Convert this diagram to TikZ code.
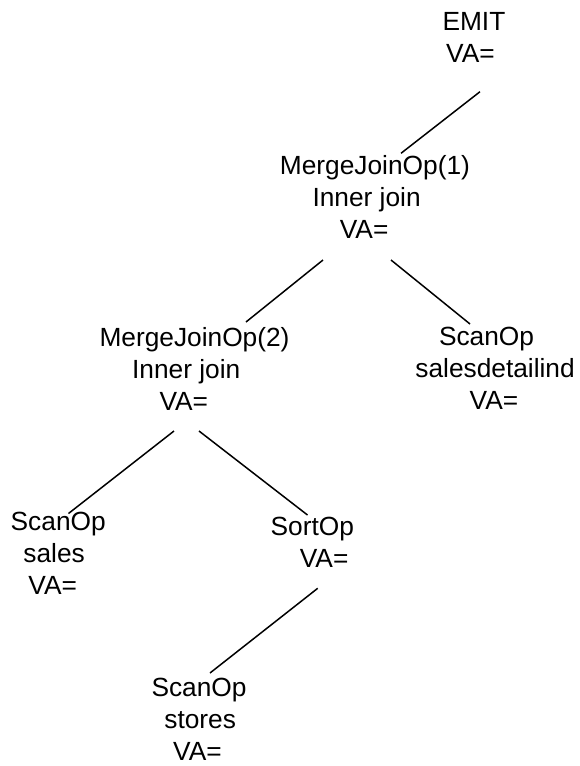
\documentclass[tikz,border=0pt]{standalone}
\usepackage{fontspec}
\setmainfont{Liberation Sans}
\begin{document}
\begin{tikzpicture}[x=1pt,y=-1pt,
    op/.style={anchor=base west, inner sep=0pt, align=left,
        font=\fontsize{26.3pt}{32pt}\selectfont},
    arista/.style={line width=1.5pt}]
    % Fijar el marco del dibujo
    \useasboundingbox (0,0) rectangle (579,766);

    % Colocar los operadores del plan (base = ultima linea)
    \node[op] (emit) at (442.3,62.7) {EMIT\\\hspace*{3.7pt}VA=};
    \node[op] (mj1) at (279.7,238) {MergeJoinOp(1)\\\hspace*{32.6pt}Inner join\\\hspace*{60pt}VA=};
    \node[op] (mj2) at (99.3,410) {MergeJoinOp(2)\\\hspace*{32.6pt}Inner join\\\hspace*{60pt}VA=};
    \node[op] (scansd) at (415.2,409) {\hspace*{23.6pt}ScanOp\\salesdetailind\\\hspace*{54.3pt}VA=};
    \node[op] (scansales) at (10.5,594) {ScanOp\\\hspace*{12.7pt}sales\\\hspace*{17.8pt}VA=};
    \node[op] (sortop) at (270.5,567) {SortOp\\\hspace*{29.2pt}VA=};
    \node[op] (scanstores) at (151.3,760.4) {ScanOp\\\hspace*{12.9pt}stores\\\hspace*{21.7pt}VA=};

    % Dibujar las aristas entre operadores
    \draw[arista] ([shift={(37.7,29)}]emit.base west) -- ([shift={(121.3,-84.7)}]mj1.base west);
    \draw[arista] ([shift={(43.3,22)}]mj1.base west) -- ([shift={(146.7,-88)}]mj2.base west);
    \draw[arista] ([shift={(111.3,22)}]mj1.base west) -- ([shift={(54.8,-85)}]scansd.base west);
    \draw[arista] ([shift={(74.7,21)}]mj2.base west) -- ([shift={(58,-80.5)}]scansales.base west);
    \draw[arista] ([shift={(99.7,21)}]mj2.base west) -- ([shift={(37,-52)}]sortop.base west);
    \draw[arista] ([shift={(47.2,21.3)}]sortop.base west) -- ([shift={(58.7,-87.4)}]scanstores.base west);
\end{tikzpicture}
\end{document}
